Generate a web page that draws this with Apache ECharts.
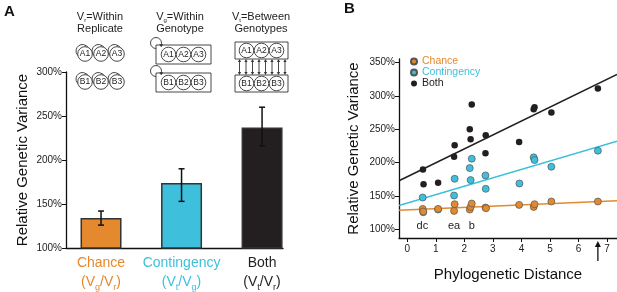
<!DOCTYPE html>
<html>
<head>
<meta charset="utf-8">
<script src="https://cdn.jsdelivr.net/npm/echarts@6/dist/echarts.min.js"></script>
<style>
html, body { margin: 0; padding: 0; background: #fff; }
#main { width: 617px; height: 292px; }
</style>
</head>
<body>
<div id="main"></div>
<script>
// ---- panel A data (bars) ----
var barPos = [0, 1, 2];
var barNames = ['Chance', 'Contingency', 'Both'];
var barSubs = [['g', 'r'], ['t', 'g'], ['t', 'r']];
var barValues = [134, 174, 237];
var errLow = [126, 153, 216];
var errHigh = [142, 190, 260];
var barTicks = [100, 150, 200, 250, 300];

// ---- panel B data (scatter) ----
var chanceData = [[0.54, 131], [0.56, 127], [1.08, 131], [1.64, 128], [1.66, 138], [2.19, 130], [2.22, 134],
  [2.26, 139], [2.74, 133], [2.76, 132], [3.92, 137], [4.43, 134], [4.46, 138], [5.05, 142], [6.68, 142]];
var contData = [[0.54, 148], [0.56, 126], [1.08, 130], [1.64, 151], [1.66, 176], [2.19, 192], [2.22, 174],
  [2.26, 206], [2.74, 181], [2.75, 161], [3.93, 169], [4.43, 208], [4.46, 204], [5.05, 194], [6.68, 218]];
var bothData = [[0.55, 190], [0.57, 168], [1.08, 170], [1.64, 209], [1.66, 226], [2.19, 250], [2.22, 235],
  [2.26, 287], [2.74, 214], [2.75, 241], [3.92, 231], [4.43, 280], [4.46, 283], [5.05, 275], [6.68, 311]];
var lineChance = [[-0.29, 129], [7.35, 143]];
var lineCont = [[-0.29, 136], [7.35, 232]];
var lineBoth = [[-0.29, 173], [7.35, 332]];
var distTicks = [0, 1, 2, 3, 4, 5, 6, 7];
var varTicks = [100, 150, 200, 250, 300, 350];
var cladeLabels = [[0.53, 106, 'dc'], [1.64, 106, 'ea'], [2.26, 106, 'b']];
var arrowAt = 6.68;

var ORANGE = '#e4892e';
var CYAN = '#3ec0dc';
var BLACK = '#231f20';
var FONT = 'Arial, "Liberation Sans", sans-serif';
var barColors = [ORANGE, CYAN, BLACK];
var richKeys = ['o', 'c', 'k'];

var chart = echarts.init(document.getElementById('main'));

// schematic drawings above the bars
function node(cx, cy, label) {
  return [
    { type: 'circle', shape: { cx: cx, cy: cy, r: 7.3 }, style: { fill: '#fff', stroke: '#333', lineWidth: 0.9 }, z: 10 },
    { type: 'text', x: cx, y: cy, style: { text: label, fontSize: 8.5, fontFamily: FONT, fill: '#222', align: 'center', verticalAlign: 'middle' }, z: 11 }
  ];
}
function loop(cx, cy, r, a0, a1, z) {
  var ex = cx + r * Math.cos(a1), ey = cy + r * Math.sin(a1);
  return [
    { type: 'arc', shape: { cx: cx, cy: cy, r: r, startAngle: a0, endAngle: a1, clockwise: true }, style: { stroke: '#333', lineWidth: 0.9, fill: null }, z: z },
    { type: 'polygon', shape: { points: [[ex - 2, ey - 0.5], [ex + 2, ey - 0.5], [ex, ey + 2.5]] }, style: { fill: '#333' }, z: z }
  ];
}
function title(cx, y, sub, rest, line2) {
  return [
    { type: 'text', x: cx, y: y, style: { text: '{n|V}{s|' + sub + '}{n|' + rest + '}', align: 'center', verticalAlign: 'middle',
      rich: { n: { fontSize: 11, fontFamily: FONT, fill: '#222', lineHeight: 13 }, s: { fontSize: 6, fontFamily: FONT, fill: '#222', verticalAlign: 'bottom', lineHeight: 13 } } } },
    { type: 'text', x: cx, y: y + 12, style: { text: line2, fontSize: 11, fontFamily: FONT, fill: '#222', align: 'center', verticalAlign: 'middle' } }
  ];
}

function buildGraphics(extra) {
  var g = [];
  g.push({ type: 'text', x: 4, y: 12, style: { text: 'A', fontSize: 15, fontWeight: 'bold', fontFamily: FONT, fill: '#111', verticalAlign: 'middle' } });
  g.push({ type: 'text', x: 344, y: 9, style: { text: 'B', fontSize: 15, fontWeight: 'bold', fontFamily: FONT, fill: '#111', verticalAlign: 'middle' } });
  g = g.concat(title(100, 17, 'r', '=Within', 'Replicate'));
  g = g.concat(title(180, 17, 'g', '=Within', 'Genotype'));
  g = g.concat(title(261, 17, 't', '=Between', 'Genotypes'));

  // within replicate
  [['A', 54], ['B', 82]].forEach(function (row) {
    [85, 101, 117].forEach(function (x, i) {
      g = g.concat(loop(x - 2.5, row[1] - 3, 6.5, Math.PI * 0.55, Math.PI * 1.95, 8));
      g = g.concat(node(x, row[1], row[0] + (i + 1)));
    });
  });
  // within genotype
  [['A', 45], ['B', 73]].forEach(function (row) {
    g.push({ type: 'rect', shape: { x: 156, y: row[1], width: 55, height: 19 }, style: { fill: '#fff', stroke: '#333', lineWidth: 0.9 }, z: 9 });
    [168.5, 183.5, 198.5].forEach(function (x, i) { g = g.concat(node(x, row[1] + 9.5, row[0] + (i + 1))); });
    g = g.concat(loop(156, row[1] - 2, 5.5, Math.PI * 0.5, Math.PI * 2.1, 12));
  });
  // between genotypes
  [['A', 42], ['B', 75]].forEach(function (row) {
    g.push({ type: 'rect', shape: { x: 235, y: row[1], width: 53, height: 17 }, style: { fill: '#fff', stroke: '#333', lineWidth: 0.9 }, z: 9 });
    [246.5, 261.5, 276.5].forEach(function (x, i) { g = g.concat(node(x, row[1] + 8.5, row[0] + (i + 1))); });
  });
  for (var k = 0; k < 8; k++) {
    var ax = 239.5 + k * 6.5;
    g.push({ type: 'line', shape: { x1: ax, y1: 61, x2: ax, y2: 72 }, style: { stroke: '#333', lineWidth: 0.9 } });
    g.push({ type: 'polygon', shape: { points: [[ax - 1.6, 62], [ax + 1.6, 62], [ax, 59]] }, style: { fill: '#333' } });
    g.push({ type: 'polygon', shape: { points: [[ax - 1.6, 72], [ax + 1.6, 72], [ax, 75]] }, style: { fill: '#333' } });
  }
  return g.concat(extra || []);
}

function barLabel(v) {
  var i = barPos.indexOf(v);
  if (i < 0) return '';
  var k = richKeys[i];
  return '{' + k + '|' + barNames[i] + '}\n{' + k + '|(V}{' + k + 's|' + barSubs[i][0] + '}{' + k + '|/V}{' + k + 's|' + barSubs[i][1] + '}{' + k + '|)}';
}
var rich = {};
richKeys.forEach(function (k, i) {
  rich[k] = { color: barColors[i], fontSize: 14, fontFamily: FONT, lineHeight: 19 };
  rich[k + 's'] = { color: barColors[i], fontSize: 9, fontFamily: FONT, lineHeight: 19, verticalAlign: 'bottom', padding: [8, 0, 0, 0] };
});

var axisStyle = { lineStyle: { color: '#111', width: 1.3 } };

var option = {
  animation: false,
  backgroundColor: '#fff',
  textStyle: { fontFamily: FONT },
  grid: [
    { left: 66, right: 334, top: 72, bottom: 44 },
    { left: 399, right: 0, top: 59, bottom: 54 }
  ],
  legend: {
    orient: 'vertical', left: 410, top: 56, padding: 0, itemWidth: 6, itemHeight: 6, itemGap: 0, icon: 'circle',
    textStyle: { fontSize: 10.5, fontFamily: FONT, lineHeight: 11 },
    data: [
      { name: 'Chance', textStyle: { color: ORANGE } },
      { name: 'Contingency', textStyle: { color: CYAN } },
      { name: 'Both', textStyle: { color: '#222' } }
    ]
  },
  xAxis: [
    {
      gridIndex: 0, type: 'value', min: -0.435, max: 2.26,
      axisLine: { onZero: false, lineStyle: { color: '#111', width: 1.3 } }, axisTick: { show: false }, splitLine: { show: false },
      axisLabel: { customValues: barPos, formatter: barLabel, rich: rich, margin: 6 }
    },
    {
      gridIndex: 1, type: 'value', min: -0.29, max: 7.35,
      axisLine: { onZero: false, lineStyle: { color: '#111', width: 1.3 } }, splitLine: { show: false },
      axisTick: { customValues: distTicks, length: 4, lineStyle: { color: '#111' } },
      axisLabel: { customValues: distTicks, color: '#222', fontSize: 10, margin: 6 },
      name: 'Phylogenetic Distance', nameLocation: 'middle', nameGap: 29,
      nameTextStyle: { fontSize: 15, color: '#111', fontFamily: FONT }
    }
  ],
  yAxis: [
    {
      gridIndex: 0, type: 'value', min: 100, max: 300,
      axisLine: { show: true, onZero: false, lineStyle: { color: '#111', width: 1.3 } }, splitLine: { show: false },
      axisTick: { customValues: barTicks, length: 4, lineStyle: { color: '#111' } },
      axisLabel: { customValues: barTicks, formatter: '{value}%', color: '#222', fontSize: 10, margin: 4 },
      name: 'Relative Genetic Variance', nameLocation: 'middle', nameGap: 36,
      nameTextStyle: { fontSize: 15, color: '#111', fontFamily: FONT }
    },
    {
      gridIndex: 1, type: 'value', min: 87.5, max: 355,
      axisLine: { show: true, onZero: false, lineStyle: { color: '#111', width: 1.3 } }, splitLine: { show: false },
      axisTick: { customValues: varTicks, length: 4, lineStyle: { color: '#111' } },
      axisLabel: { customValues: varTicks, formatter: '{value}%', color: '#222', fontSize: 10, margin: 4 },
      name: 'Relative Genetic Variance', nameLocation: 'middle', nameGap: 38,
      nameTextStyle: { fontSize: 15, color: '#111', fontFamily: FONT }
    }
  ],
  series: [
    {
      type: 'bar', xAxisIndex: 0, yAxisIndex: 0, barWidth: 41,
      data: barPos.map(function (p, i) {
        return { value: [p, barValues[i]], itemStyle: { color: barColors[i], borderColor: '#333', borderWidth: 1.5 } };
      })
    },
    {
      type: 'custom', xAxisIndex: 0, yAxisIndex: 0, z: 5,
      data: barPos.map(function (p, i) { return [p, errLow[i], errHigh[i]]; }),
      renderItem: function (params, api) {
        var lo = api.coord([api.value(0), api.value(1)]);
        var hi = api.coord([api.value(0), api.value(2)]);
        var st = { stroke: '#111', lineWidth: 1.5 };
        return {
          type: 'group', children: [
            { type: 'line', shape: { x1: lo[0], y1: lo[1], x2: hi[0], y2: hi[1] }, style: st },
            { type: 'line', shape: { x1: lo[0] - 3, y1: lo[1], x2: lo[0] + 3, y2: lo[1] }, style: st },
            { type: 'line', shape: { x1: hi[0] - 3, y1: hi[1], x2: hi[0] + 3, y2: hi[1] }, style: st }
          ]
        };
      }
    },
    { name: 'fitBoth', type: 'line', xAxisIndex: 1, yAxisIndex: 1, data: lineBoth, showSymbol: false, lineStyle: { color: BLACK, width: 1.5 }, z: 2 },
    { name: 'fitCont', type: 'line', xAxisIndex: 1, yAxisIndex: 1, data: lineCont, showSymbol: false, lineStyle: { color: CYAN, width: 1.5 }, z: 2 },
    { name: 'fitChance', type: 'line', xAxisIndex: 1, yAxisIndex: 1, data: lineChance, showSymbol: false, lineStyle: { color: ORANGE, width: 1.5 }, z: 2 },
    { name: 'Both', type: 'scatter', xAxisIndex: 1, yAxisIndex: 1, data: bothData, symbolSize: 6.5, itemStyle: { color: BLACK, opacity: 1 }, z: 3 },
    { name: 'Contingency', type: 'scatter', xAxisIndex: 1, yAxisIndex: 1, data: contData, symbolSize: 7, itemStyle: { color: CYAN, borderColor: '#555', borderWidth: 0.7, opacity: 1 }, z: 3 },
    { name: 'Chance', type: 'scatter', xAxisIndex: 1, yAxisIndex: 1, data: chanceData, symbolSize: 7, itemStyle: { color: ORANGE, borderColor: '#555', borderWidth: 0.7, opacity: 1 }, z: 4 },
    {
      name: 'clades', type: 'scatter', xAxisIndex: 1, yAxisIndex: 1, data: cladeLabels, symbolSize: 0, silent: true,
      itemStyle: { opacity: 1 },
      label: { show: true, position: 'inside', formatter: function (p) { return p.value[2]; }, color: '#222', fontSize: 11, fontFamily: FONT }
    }
  ],
  graphic: { elements: buildGraphics() }
};

chart.setOption(option);

// arrow under the last phylogenetic distance point
var ap = chart.convertToPixel({ xAxisIndex: 1, yAxisIndex: 1 }, [arrowAt, 87.5]);
var arrow = [
  { type: 'line', shape: { x1: ap[0], y1: ap[1] + 6, x2: ap[0], y2: ap[1] + 23 }, style: { stroke: '#111', lineWidth: 1.3 } },
  { type: 'polygon', shape: { points: [[ap[0] - 3, ap[1] + 9], [ap[0] + 3, ap[1] + 9], [ap[0], ap[1] + 3]] }, style: { fill: '#111' } }
];
chart.setOption({ graphic: { elements: buildGraphics(arrow) } });
</script>
</body>
</html>
